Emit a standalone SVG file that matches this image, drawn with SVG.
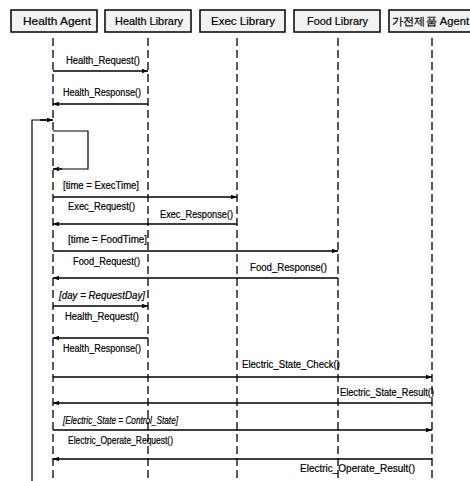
<svg xmlns="http://www.w3.org/2000/svg" width="470" height="481" viewBox="0 0 470 481">
<style>
.box{fill:#f2f2f2;stroke:#000;stroke-width:1.5}
.nt{font-family:"Liberation Sans",Arial,sans-serif;font-size:11px;fill:#000;stroke:#000;stroke-width:0.2}
.life{stroke:#000;stroke-width:1.3;stroke-dasharray:8 4;fill:none}
.msg{stroke:#000;stroke-width:1.5;fill:none;marker-end:url(#ah)}
.thin{stroke:#000;stroke-width:1.2;fill:none}
.lb{font-family:"Liberation Sans",Arial,sans-serif;font-size:10px;fill:#000;stroke:#000;stroke-width:0.2}
.it{font-style:italic}
</style>
<defs>
<marker id="ah" viewBox="0 0 8 6" refX="8" refY="3" markerWidth="6" markerHeight="4.5" orient="auto" markerUnits="userSpaceOnUse">
<path d="M0,0 L8,3 L0,6 z" fill="#000"/>
</marker>
</defs>
<rect width="470" height="481" fill="#fff"/>
<g id="health-agent">
<rect class="box" x="11" y="10" width="86" height="22"/>
<text class="nt" x="23" y="25" textLength="68" lengthAdjust="spacingAndGlyphs">Health Agent</text>
<line class="life" x1="53" y1="38" x2="53" y2="481"/>
</g>
<g id="health-library">
<rect class="box" x="105" y="10" width="86" height="22"/>
<text class="nt" x="115" y="25" textLength="68" lengthAdjust="spacingAndGlyphs">Health Library</text>
<line class="life" x1="148" y1="38" x2="148" y2="481"/>
</g>
<g id="exec-library">
<rect class="box" x="200" y="10" width="85" height="22"/>
<text class="nt" x="211" y="25" textLength="64" lengthAdjust="spacingAndGlyphs">Exec Library</text>
<line class="life" x1="237" y1="38" x2="237" y2="481"/>
</g>
<g id="food-library">
<rect class="box" x="294" y="10" width="86" height="22"/>
<text class="nt" x="307" y="25" textLength="61" lengthAdjust="spacingAndGlyphs">Food Library</text>
<line class="life" x1="338" y1="38" x2="338" y2="481"/>
</g>
<g id="appliance-agent">
<rect class="box" x="389" y="10" width="82" height="22"/>
<text class="nt" x="392" y="25" textLength="77" lengthAdjust="spacingAndGlyphs" font-family="'Liberation Sans','Noto Sans CJK KR',sans-serif">가전제품 Agent</text>
<line class="life" x1="432" y1="38" x2="432" y2="481"/>
</g>
<g id="connectors">
<line class="msg" x1="53" y1="71" x2="148" y2="71"/>
<text class="lb" x="66" y="64" textLength="74" lengthAdjust="spacingAndGlyphs">Health_Request()</text>
<line class="msg" x1="148" y1="104" x2="53" y2="104"/>
<text class="lb" x="63" y="96" textLength="78" lengthAdjust="spacingAndGlyphs">Health_Response()</text>
<path class="thin" d="M32,481 L32,120 L48,120" stroke-width="1.5"/>
<line class="msg" x1="40" y1="120" x2="53" y2="120"/>
<path class="thin" d="M53,131 L88,131 L88,169 L60,169"/>
<line class="msg" x1="62" y1="169" x2="53" y2="169"/>
<text class="lb" x="63" y="189" textLength="76" lengthAdjust="spacingAndGlyphs">[time = ExecTime]</text>
<line class="msg" x1="53" y1="197" x2="237" y2="197"/>
<text class="lb" x="68" y="210" textLength="67" lengthAdjust="spacingAndGlyphs">Exec_Request()</text>
<text class="lb" x="160" y="218" textLength="73" lengthAdjust="spacingAndGlyphs">Exec_Response()</text>
<line class="msg" x1="237" y1="224" x2="53" y2="224"/>
<text class="lb" x="68" y="243" textLength="79" lengthAdjust="spacingAndGlyphs">[time = FoodTime]</text>
<line class="msg" x1="53" y1="251" x2="338" y2="251"/>
<text class="lb" x="73" y="265" textLength="67" lengthAdjust="spacingAndGlyphs">Food_Request()</text>
<text class="lb" x="250" y="271" textLength="77" lengthAdjust="spacingAndGlyphs">Food_Response()</text>
<line class="msg" x1="338" y1="278" x2="53" y2="278"/>
<text class="lb it" x="59" y="299" textLength="86" lengthAdjust="spacingAndGlyphs">[day = RequestDay]</text>
<line class="msg" x1="53" y1="306" x2="148" y2="306"/>
<text class="lb" x="65" y="320" textLength="74" lengthAdjust="spacingAndGlyphs">Health_Request()</text>
<line class="msg" x1="148" y1="338" x2="53" y2="338"/>
<text class="lb" x="63" y="352" textLength="78" lengthAdjust="spacingAndGlyphs">Health_Response()</text>
<text class="lb" x="242" y="368" textLength="98" lengthAdjust="spacingAndGlyphs">Electric_State_Check()</text>
<line class="msg" x1="53" y1="377" x2="432" y2="377"/>
<text class="lb" x="340" y="396" textLength="94" lengthAdjust="spacingAndGlyphs">Electric_State_Result()</text>
<line class="msg" x1="432" y1="403" x2="53" y2="403"/>
<text class="lb it" x="63" y="424" textLength="115" lengthAdjust="spacingAndGlyphs">[Electric_State = Control_State]</text>
<line class="msg" x1="53" y1="430" x2="432" y2="430"/>
<text class="lb" x="68" y="444" textLength="105" lengthAdjust="spacingAndGlyphs">Electric_Operate_Request()</text>
<line class="msg" x1="432" y1="459" x2="53" y2="459"/>
<text class="lb" x="300" y="472" textLength="115" lengthAdjust="spacingAndGlyphs">Electric_Operate_Result()</text>
</g>
</svg>
